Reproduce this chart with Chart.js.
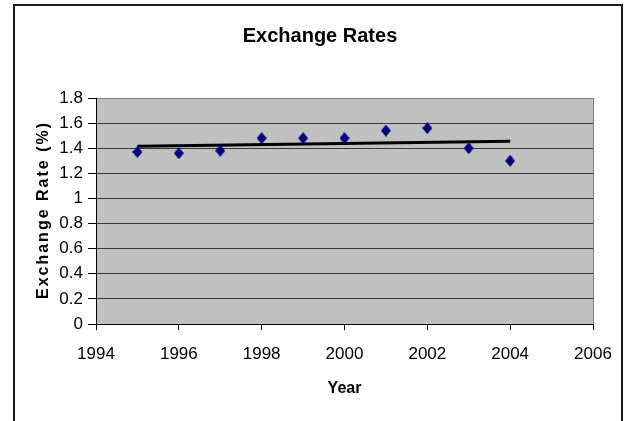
<!DOCTYPE html>
<html>
<head>
<meta charset="utf-8">
<script src="https://cdn.jsdelivr.net/npm/chart.js@4/dist/chart.umd.min.js"></script>
<style>
  html, body { margin: 0; padding: 0; background: #fff; }
  #wrap { width: 626px; height: 421px; }
</style>
</head>
<body>
<div id="wrap"><canvas id="chart" width="626" height="421"></canvas></div>
<script>
// Annual exchange rate observations
const years = [1995, 1996, 1997, 1998, 1999, 2000, 2001, 2002, 2003, 2004];
const rates = [1.37, 1.36, 1.38, 1.48, 1.48, 1.48, 1.54, 1.56, 1.40, 1.30];

// Linear trend line end points
const trendYears = [1995, 2004];
const trendRates = [1.415, 1.455];

// Axis tick values
const xTicks = [1994, 1996, 1998, 2000, 2002, 2004, 2006];
const yTicks = [0, 0.2, 0.4, 0.6, 0.8, 1, 1.2, 1.4, 1.6, 1.8];

const chartTitle = 'Exchange Rates';
const xTitle = 'Year';
const yTitle = 'Exchange Rate (%)';

const FONT = '"Liberation Sans", Arial, sans-serif';

// Navy diamond marker
const diamond = document.createElement('canvas');
diamond.width = 10;
diamond.height = 12;
(function () {
  const g = diamond.getContext('2d');
  g.fillStyle = '#000080';
  g.beginPath();
  g.moveTo(5, 0);
  g.lineTo(10, 6);
  g.lineTo(5, 12);
  g.lineTo(0, 6);
  g.closePath();
  g.fill();
})();

// Frame, plot-area fill and the text around the plot
const decorations = {
  id: 'decorations',
  beforeDraw(chart) {
    const { ctx, chartArea: a } = chart;
    ctx.save();
    ctx.fillStyle = '#ffffff';
    ctx.fillRect(0, 0, chart.width, chart.height);
    ctx.strokeStyle = '#1a1a1a';
    ctx.lineWidth = 2;
    ctx.strokeRect(14, 5, 608, 440);
    ctx.fillStyle = '#c0c0c0';
    ctx.fillRect(a.left, a.top, a.right - a.left, a.bottom - a.top);
    ctx.restore();
  },
  afterDraw(chart) {
    const { ctx, chartArea: a } = chart;
    ctx.save();
    // gray right edge of the plot area
    ctx.strokeStyle = '#808080';
    ctx.lineWidth = 1;
    ctx.beginPath();
    ctx.moveTo(a.right + 0.5, a.top);
    ctx.lineTo(a.right + 0.5, a.bottom);
    ctx.stroke();

    ctx.fillStyle = '#000';
    ctx.textAlign = 'center';
    ctx.textBaseline = 'middle';
    ctx.font = 'bold 20px ' + FONT;
    ctx.fillText(chartTitle, 320, 36);

    ctx.font = 'bold 16px ' + FONT;
    ctx.fillText(xTitle, (a.left + a.right) / 2, 389);

    ctx.translate(44, (a.top + a.bottom) / 2);
    ctx.rotate(-Math.PI / 2);
    ctx.letterSpacing = '2px';
    ctx.font = 'bold 16px ' + FONT;
    ctx.fillText(yTitle, 1, 0);
    ctx.restore();
  }
};

new Chart(document.getElementById('chart'), {
  type: 'scatter',
  data: {
    datasets: [
      {
        label: 'Trend',
        type: 'line',
        data: trendYears.map((x, i) => ({ x, y: trendRates[i] })),
        borderColor: '#000',
        borderWidth: 3,
        pointRadius: 0,
        fill: false,
        order: 1
      },
      {
        label: 'Exchange rate',
        data: years.map((x, i) => ({ x, y: rates[i] })),
        pointStyle: diamond,
        order: 0
      }
    ]
  },
  options: {
    responsive: false,
    animation: false,
    devicePixelRatio: 1,
    layout: { padding: { left: 0, top: 98, right: 33, bottom: 0 } },
    plugins: {
      legend: { display: false },
      tooltip: { enabled: false },
      title: { display: false }
    },
    scales: {
      x: {
        type: 'linear',
        min: xTicks[0],
        max: xTicks[xTicks.length - 1],
        afterBuildTicks: s => { s.ticks = xTicks.map(v => ({ value: v })); },
        afterFit: s => { s.height = 97; },
        ticks: {
          color: '#000',
          font: { family: FONT, size: 17 },
          padding: 14,
          maxRotation: 0,
          callback: v => String(v)
        },
        grid: { drawOnChartArea: false, tickLength: 6, tickColor: '#000' },
        border: { color: '#000', width: 1 }
      },
      y: {
        min: yTicks[0],
        max: yTicks[yTicks.length - 1],
        afterBuildTicks: s => { s.ticks = yTicks.map(v => ({ value: v })); },
        afterFit: s => { s.width = 96; },
        ticks: {
          color: '#000',
          font: { family: FONT, size: 17 },
          padding: 5,
          callback: v => String(Math.round(v * 10) / 10)
        },
        grid: {
          color: ctx => (ctx.tick && ctx.tick.value === yTicks[yTicks.length - 1]) ? '#808080' : '#3a3a3a',
          tickColor: '#000',
          tickLength: 8
        },
        border: { color: '#000', width: 1 }
      }
    }
  },
  plugins: [decorations]
});
</script>
</body>
</html>
